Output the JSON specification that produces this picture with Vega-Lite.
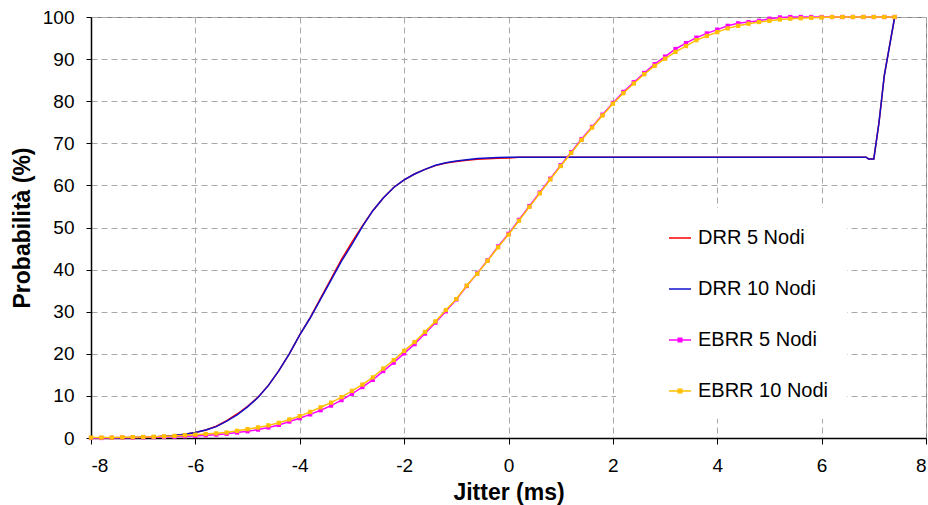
{
  "$schema": "https://vega.github.io/schema/vega-lite/v6.json",
  "width": 835,
  "height": 421,
  "autosize": {"type": "none"},
  "padding": {"left": 91, "top": 17, "right": 2, "bottom": 67},
  "background": "white",
  "config": {
    "font": "Liberation Sans",
    "view": {"stroke": "#808080", "strokeWidth": 1},
    "axis": {
      "labelFont": "Liberation Sans",
      "labelFontSize": 19,
      "labelColor": "black",
      "titleFont": "Liberation Sans",
      "titleFontSize": 23,
      "titleFontWeight": "bold",
      "titleColor": "black",
      "domainColor": "black",
      "domainWidth": 1.5,
      "tickColor": "black",
      "tickWidth": 1,
      "gridColor": "#a8a8a8",
      "gridDash": [6, 4],
      "gridWidth": 1
    }
  },
  "datasets": {
    "pts": [
      {"x": -8, "y": 0, "s": "DRR 5 Nodi"},
      {"x": -7.6, "y": 0.02, "s": "DRR 5 Nodi"},
      {"x": -7.2, "y": 0.08, "s": "DRR 5 Nodi"},
      {"x": -7.0, "y": 0.15, "s": "DRR 5 Nodi"},
      {"x": -6.8, "y": 0.25, "s": "DRR 5 Nodi"},
      {"x": -6.6, "y": 0.4, "s": "DRR 5 Nodi"},
      {"x": -6.4, "y": 0.6, "s": "DRR 5 Nodi"},
      {"x": -6.2, "y": 0.9, "s": "DRR 5 Nodi"},
      {"x": -6.0, "y": 1.3, "s": "DRR 5 Nodi"},
      {"x": -5.8, "y": 1.9, "s": "DRR 5 Nodi"},
      {"x": -5.6, "y": 2.8, "s": "DRR 5 Nodi"},
      {"x": -5.4, "y": 4.1, "s": "DRR 5 Nodi"},
      {"x": -5.2, "y": 5.7, "s": "DRR 5 Nodi"},
      {"x": -5.0, "y": 7.5, "s": "DRR 5 Nodi"},
      {"x": -4.8, "y": 9.7, "s": "DRR 5 Nodi"},
      {"x": -4.6, "y": 12.5, "s": "DRR 5 Nodi"},
      {"x": -4.4, "y": 16.0, "s": "DRR 5 Nodi"},
      {"x": -4.2, "y": 20.0, "s": "DRR 5 Nodi"},
      {"x": -4.0, "y": 24.5, "s": "DRR 5 Nodi"},
      {"x": -3.8, "y": 28.6, "s": "DRR 5 Nodi"},
      {"x": -3.6, "y": 33.2, "s": "DRR 5 Nodi"},
      {"x": -3.4, "y": 37.8, "s": "DRR 5 Nodi"},
      {"x": -3.2, "y": 42.4, "s": "DRR 5 Nodi"},
      {"x": -3.0, "y": 46.5, "s": "DRR 5 Nodi"},
      {"x": -2.8, "y": 50.4, "s": "DRR 5 Nodi"},
      {"x": -2.6, "y": 54.0, "s": "DRR 5 Nodi"},
      {"x": -2.4, "y": 57.0, "s": "DRR 5 Nodi"},
      {"x": -2.2, "y": 59.5, "s": "DRR 5 Nodi"},
      {"x": -2.0, "y": 61.3, "s": "DRR 5 Nodi"},
      {"x": -1.8, "y": 62.7, "s": "DRR 5 Nodi"},
      {"x": -1.6, "y": 63.8, "s": "DRR 5 Nodi"},
      {"x": -1.4, "y": 64.7, "s": "DRR 5 Nodi"},
      {"x": -1.2, "y": 65.3, "s": "DRR 5 Nodi"},
      {"x": -1.0, "y": 65.7, "s": "DRR 5 Nodi"},
      {"x": -0.8, "y": 66.0, "s": "DRR 5 Nodi"},
      {"x": -0.6, "y": 66.2, "s": "DRR 5 Nodi"},
      {"x": -0.4, "y": 66.35, "s": "DRR 5 Nodi"},
      {"x": -0.2, "y": 66.45, "s": "DRR 5 Nodi"},
      {"x": 0.0, "y": 66.5, "s": "DRR 5 Nodi"},
      {"x": 0.2, "y": 66.7, "s": "DRR 5 Nodi"},
      {"x": 2.0, "y": 66.7, "s": "DRR 5 Nodi"},
      {"x": 4.0, "y": 66.7, "s": "DRR 5 Nodi"},
      {"x": 6.0, "y": 66.7, "s": "DRR 5 Nodi"},
      {"x": 6.85, "y": 66.7, "s": "DRR 5 Nodi"},
      {"x": 6.9, "y": 66.3, "s": "DRR 5 Nodi"},
      {"x": 7.0, "y": 66.3, "s": "DRR 5 Nodi"},
      {"x": 7.1, "y": 75.0, "s": "DRR 5 Nodi"},
      {"x": 7.2, "y": 86.0, "s": "DRR 5 Nodi"},
      {"x": 7.3, "y": 93.0, "s": "DRR 5 Nodi"},
      {"x": 7.4, "y": 100.0, "s": "DRR 5 Nodi"},

      {"x": -8, "y": 0, "s": "DRR 10 Nodi"},
      {"x": -7.6, "y": 0.02, "s": "DRR 10 Nodi"},
      {"x": -7.2, "y": 0.08, "s": "DRR 10 Nodi"},
      {"x": -7.0, "y": 0.15, "s": "DRR 10 Nodi"},
      {"x": -6.8, "y": 0.25, "s": "DRR 10 Nodi"},
      {"x": -6.6, "y": 0.4, "s": "DRR 10 Nodi"},
      {"x": -6.4, "y": 0.6, "s": "DRR 10 Nodi"},
      {"x": -6.2, "y": 0.9, "s": "DRR 10 Nodi"},
      {"x": -6.0, "y": 1.3, "s": "DRR 10 Nodi"},
      {"x": -5.8, "y": 1.9, "s": "DRR 10 Nodi"},
      {"x": -5.6, "y": 2.7, "s": "DRR 10 Nodi"},
      {"x": -5.4, "y": 4.0, "s": "DRR 10 Nodi"},
      {"x": -5.2, "y": 5.5, "s": "DRR 10 Nodi"},
      {"x": -5.0, "y": 7.4, "s": "DRR 10 Nodi"},
      {"x": -4.8, "y": 9.6, "s": "DRR 10 Nodi"},
      {"x": -4.6, "y": 12.5, "s": "DRR 10 Nodi"},
      {"x": -4.4, "y": 16.0, "s": "DRR 10 Nodi"},
      {"x": -4.2, "y": 20.0, "s": "DRR 10 Nodi"},
      {"x": -4.0, "y": 24.5, "s": "DRR 10 Nodi"},
      {"x": -3.8, "y": 28.5, "s": "DRR 10 Nodi"},
      {"x": -3.6, "y": 33.0, "s": "DRR 10 Nodi"},
      {"x": -3.4, "y": 37.5, "s": "DRR 10 Nodi"},
      {"x": -3.2, "y": 42.0, "s": "DRR 10 Nodi"},
      {"x": -3.0, "y": 46.0, "s": "DRR 10 Nodi"},
      {"x": -2.8, "y": 50.2, "s": "DRR 10 Nodi"},
      {"x": -2.6, "y": 54.0, "s": "DRR 10 Nodi"},
      {"x": -2.4, "y": 57.0, "s": "DRR 10 Nodi"},
      {"x": -2.2, "y": 59.5, "s": "DRR 10 Nodi"},
      {"x": -2.0, "y": 61.3, "s": "DRR 10 Nodi"},
      {"x": -1.8, "y": 62.7, "s": "DRR 10 Nodi"},
      {"x": -1.6, "y": 63.8, "s": "DRR 10 Nodi"},
      {"x": -1.4, "y": 64.8, "s": "DRR 10 Nodi"},
      {"x": -1.2, "y": 65.4, "s": "DRR 10 Nodi"},
      {"x": -1.0, "y": 65.8, "s": "DRR 10 Nodi"},
      {"x": -0.8, "y": 66.1, "s": "DRR 10 Nodi"},
      {"x": -0.6, "y": 66.4, "s": "DRR 10 Nodi"},
      {"x": -0.4, "y": 66.5, "s": "DRR 10 Nodi"},
      {"x": -0.2, "y": 66.6, "s": "DRR 10 Nodi"},
      {"x": 0.0, "y": 66.7, "s": "DRR 10 Nodi"},
      {"x": 2.0, "y": 66.7, "s": "DRR 10 Nodi"},
      {"x": 4.0, "y": 66.7, "s": "DRR 10 Nodi"},
      {"x": 6.0, "y": 66.7, "s": "DRR 10 Nodi"},
      {"x": 6.85, "y": 66.7, "s": "DRR 10 Nodi"},
      {"x": 6.9, "y": 66.3, "s": "DRR 10 Nodi"},
      {"x": 7.0, "y": 66.3, "s": "DRR 10 Nodi"},
      {"x": 7.1, "y": 75.0, "s": "DRR 10 Nodi"},
      {"x": 7.2, "y": 86.0, "s": "DRR 10 Nodi"},
      {"x": 7.3, "y": 93.0, "s": "DRR 10 Nodi"},
      {"x": 7.4, "y": 100.0, "s": "DRR 10 Nodi"},

      {"x": -8.0, "y": 0, "s": "EBRR 5 Nodi"},
      {"x": -7.8, "y": 0, "s": "EBRR 5 Nodi"},
      {"x": -7.6, "y": 0.05, "s": "EBRR 5 Nodi"},
      {"x": -7.4, "y": 0.1, "s": "EBRR 5 Nodi"},
      {"x": -7.2, "y": 0.1, "s": "EBRR 5 Nodi"},
      {"x": -7.0, "y": 0.15, "s": "EBRR 5 Nodi"},
      {"x": -6.8, "y": 0.2, "s": "EBRR 5 Nodi"},
      {"x": -6.6, "y": 0.25, "s": "EBRR 5 Nodi"},
      {"x": -6.4, "y": 0.3, "s": "EBRR 5 Nodi"},
      {"x": -6.2, "y": 0.4, "s": "EBRR 5 Nodi"},
      {"x": -6.0, "y": 0.5, "s": "EBRR 5 Nodi"},
      {"x": -5.8, "y": 0.65, "s": "EBRR 5 Nodi"},
      {"x": -5.6, "y": 0.8, "s": "EBRR 5 Nodi"},
      {"x": -5.4, "y": 1.0, "s": "EBRR 5 Nodi"},
      {"x": -5.2, "y": 1.3, "s": "EBRR 5 Nodi"},
      {"x": -5.0, "y": 1.6, "s": "EBRR 5 Nodi"},
      {"x": -4.8, "y": 2.0, "s": "EBRR 5 Nodi"},
      {"x": -4.6, "y": 2.5, "s": "EBRR 5 Nodi"},
      {"x": -4.4, "y": 3.1, "s": "EBRR 5 Nodi"},
      {"x": -4.2, "y": 3.9, "s": "EBRR 5 Nodi"},
      {"x": -4.0, "y": 4.7, "s": "EBRR 5 Nodi"},
      {"x": -3.8, "y": 5.6, "s": "EBRR 5 Nodi"},
      {"x": -3.6, "y": 6.6, "s": "EBRR 5 Nodi"},
      {"x": -3.4, "y": 7.7, "s": "EBRR 5 Nodi"},
      {"x": -3.2, "y": 9.0, "s": "EBRR 5 Nodi"},
      {"x": -3.0, "y": 10.5, "s": "EBRR 5 Nodi"},
      {"x": -2.8, "y": 12.1, "s": "EBRR 5 Nodi"},
      {"x": -2.6, "y": 13.8, "s": "EBRR 5 Nodi"},
      {"x": -2.4, "y": 15.9, "s": "EBRR 5 Nodi"},
      {"x": -2.2, "y": 17.9, "s": "EBRR 5 Nodi"},
      {"x": -2.0, "y": 20.1, "s": "EBRR 5 Nodi"},
      {"x": -1.8, "y": 22.3, "s": "EBRR 5 Nodi"},
      {"x": -1.6, "y": 24.8, "s": "EBRR 5 Nodi"},
      {"x": -1.4, "y": 27.4, "s": "EBRR 5 Nodi"},
      {"x": -1.2, "y": 30.1, "s": "EBRR 5 Nodi"},
      {"x": -1.0, "y": 32.9, "s": "EBRR 5 Nodi"},
      {"x": -0.8, "y": 36.1, "s": "EBRR 5 Nodi"},
      {"x": -0.6, "y": 39.1, "s": "EBRR 5 Nodi"},
      {"x": -0.4, "y": 42.2, "s": "EBRR 5 Nodi"},
      {"x": -0.2, "y": 45.5, "s": "EBRR 5 Nodi"},
      {"x": 0.0, "y": 48.5, "s": "EBRR 5 Nodi"},
      {"x": 0.2, "y": 51.8, "s": "EBRR 5 Nodi"},
      {"x": 0.4, "y": 55.1, "s": "EBRR 5 Nodi"},
      {"x": 0.6, "y": 58.3, "s": "EBRR 5 Nodi"},
      {"x": 0.8, "y": 61.6, "s": "EBRR 5 Nodi"},
      {"x": 1.0, "y": 64.8, "s": "EBRR 5 Nodi"},
      {"x": 1.2, "y": 67.9, "s": "EBRR 5 Nodi"},
      {"x": 1.4, "y": 71.0, "s": "EBRR 5 Nodi"},
      {"x": 1.6, "y": 73.9, "s": "EBRR 5 Nodi"},
      {"x": 1.8, "y": 76.8, "s": "EBRR 5 Nodi"},
      {"x": 2.0, "y": 79.6, "s": "EBRR 5 Nodi"},
      {"x": 2.2, "y": 82.2, "s": "EBRR 5 Nodi"},
      {"x": 2.4, "y": 84.5, "s": "EBRR 5 Nodi"},
      {"x": 2.6, "y": 86.7, "s": "EBRR 5 Nodi"},
      {"x": 2.8, "y": 88.8, "s": "EBRR 5 Nodi"},
      {"x": 3.0, "y": 90.6, "s": "EBRR 5 Nodi"},
      {"x": 3.2, "y": 92.4, "s": "EBRR 5 Nodi"},
      {"x": 3.4, "y": 93.8, "s": "EBRR 5 Nodi"},
      {"x": 3.6, "y": 95.1, "s": "EBRR 5 Nodi"},
      {"x": 3.8, "y": 96.1, "s": "EBRR 5 Nodi"},
      {"x": 4.0, "y": 97.0, "s": "EBRR 5 Nodi"},
      {"x": 4.2, "y": 97.9, "s": "EBRR 5 Nodi"},
      {"x": 4.4, "y": 98.5, "s": "EBRR 5 Nodi"},
      {"x": 4.6, "y": 98.8, "s": "EBRR 5 Nodi"},
      {"x": 4.8, "y": 99.1, "s": "EBRR 5 Nodi"},
      {"x": 5.0, "y": 99.6, "s": "EBRR 5 Nodi"},
      {"x": 5.2, "y": 99.9, "s": "EBRR 5 Nodi"},
      {"x": 5.4, "y": 100, "s": "EBRR 5 Nodi"},
      {"x": 5.6, "y": 100, "s": "EBRR 5 Nodi"},
      {"x": 5.8, "y": 100, "s": "EBRR 5 Nodi"},
      {"x": 6.0, "y": 100, "s": "EBRR 5 Nodi"},
      {"x": 6.2, "y": 100, "s": "EBRR 5 Nodi"},
      {"x": 6.4, "y": 100, "s": "EBRR 5 Nodi"},
      {"x": 6.6, "y": 100, "s": "EBRR 5 Nodi"},
      {"x": 6.8, "y": 100, "s": "EBRR 5 Nodi"},
      {"x": 7.0, "y": 100, "s": "EBRR 5 Nodi"},
      {"x": 7.2, "y": 100, "s": "EBRR 5 Nodi"},
      {"x": 7.4, "y": 100, "s": "EBRR 5 Nodi"},

      {"x": -8.0, "y": 0.1, "s": "EBRR 10 Nodi"},
      {"x": -7.8, "y": 0.1, "s": "EBRR 10 Nodi"},
      {"x": -7.6, "y": 0.1, "s": "EBRR 10 Nodi"},
      {"x": -7.4, "y": 0.15, "s": "EBRR 10 Nodi"},
      {"x": -7.2, "y": 0.2, "s": "EBRR 10 Nodi"},
      {"x": -7.0, "y": 0.25, "s": "EBRR 10 Nodi"},
      {"x": -6.8, "y": 0.3, "s": "EBRR 10 Nodi"},
      {"x": -6.6, "y": 0.4, "s": "EBRR 10 Nodi"},
      {"x": -6.4, "y": 0.5, "s": "EBRR 10 Nodi"},
      {"x": -6.2, "y": 0.65, "s": "EBRR 10 Nodi"},
      {"x": -6.0, "y": 0.8, "s": "EBRR 10 Nodi"},
      {"x": -5.8, "y": 0.95, "s": "EBRR 10 Nodi"},
      {"x": -5.6, "y": 1.1, "s": "EBRR 10 Nodi"},
      {"x": -5.4, "y": 1.3, "s": "EBRR 10 Nodi"},
      {"x": -5.2, "y": 1.7, "s": "EBRR 10 Nodi"},
      {"x": -5.0, "y": 2.1, "s": "EBRR 10 Nodi"},
      {"x": -4.8, "y": 2.5, "s": "EBRR 10 Nodi"},
      {"x": -4.6, "y": 3.0, "s": "EBRR 10 Nodi"},
      {"x": -4.4, "y": 3.6, "s": "EBRR 10 Nodi"},
      {"x": -4.2, "y": 4.4, "s": "EBRR 10 Nodi"},
      {"x": -4.0, "y": 5.2, "s": "EBRR 10 Nodi"},
      {"x": -3.8, "y": 6.2, "s": "EBRR 10 Nodi"},
      {"x": -3.6, "y": 7.3, "s": "EBRR 10 Nodi"},
      {"x": -3.4, "y": 8.4, "s": "EBRR 10 Nodi"},
      {"x": -3.2, "y": 9.7, "s": "EBRR 10 Nodi"},
      {"x": -3.0, "y": 11.2, "s": "EBRR 10 Nodi"},
      {"x": -2.8, "y": 12.7, "s": "EBRR 10 Nodi"},
      {"x": -2.6, "y": 14.4, "s": "EBRR 10 Nodi"},
      {"x": -2.4, "y": 16.5, "s": "EBRR 10 Nodi"},
      {"x": -2.2, "y": 18.5, "s": "EBRR 10 Nodi"},
      {"x": -2.0, "y": 20.7, "s": "EBRR 10 Nodi"},
      {"x": -1.8, "y": 22.8, "s": "EBRR 10 Nodi"},
      {"x": -1.6, "y": 25.2, "s": "EBRR 10 Nodi"},
      {"x": -1.4, "y": 27.7, "s": "EBRR 10 Nodi"},
      {"x": -1.2, "y": 30.4, "s": "EBRR 10 Nodi"},
      {"x": -1.0, "y": 33.0, "s": "EBRR 10 Nodi"},
      {"x": -0.8, "y": 36.2, "s": "EBRR 10 Nodi"},
      {"x": -0.6, "y": 39.0, "s": "EBRR 10 Nodi"},
      {"x": -0.4, "y": 42.1, "s": "EBRR 10 Nodi"},
      {"x": -0.2, "y": 45.3, "s": "EBRR 10 Nodi"},
      {"x": 0.0, "y": 48.3, "s": "EBRR 10 Nodi"},
      {"x": 0.2, "y": 51.6, "s": "EBRR 10 Nodi"},
      {"x": 0.4, "y": 54.9, "s": "EBRR 10 Nodi"},
      {"x": 0.6, "y": 58.1, "s": "EBRR 10 Nodi"},
      {"x": 0.8, "y": 61.4, "s": "EBRR 10 Nodi"},
      {"x": 1.0, "y": 64.6, "s": "EBRR 10 Nodi"},
      {"x": 1.2, "y": 67.7, "s": "EBRR 10 Nodi"},
      {"x": 1.4, "y": 70.8, "s": "EBRR 10 Nodi"},
      {"x": 1.6, "y": 73.7, "s": "EBRR 10 Nodi"},
      {"x": 1.8, "y": 76.6, "s": "EBRR 10 Nodi"},
      {"x": 2.0, "y": 79.4, "s": "EBRR 10 Nodi"},
      {"x": 2.2, "y": 81.9, "s": "EBRR 10 Nodi"},
      {"x": 2.4, "y": 84.2, "s": "EBRR 10 Nodi"},
      {"x": 2.6, "y": 86.4, "s": "EBRR 10 Nodi"},
      {"x": 2.8, "y": 88.4, "s": "EBRR 10 Nodi"},
      {"x": 3.0, "y": 90.1, "s": "EBRR 10 Nodi"},
      {"x": 3.2, "y": 91.7, "s": "EBRR 10 Nodi"},
      {"x": 3.4, "y": 93.1, "s": "EBRR 10 Nodi"},
      {"x": 3.6, "y": 94.5, "s": "EBRR 10 Nodi"},
      {"x": 3.8, "y": 95.5, "s": "EBRR 10 Nodi"},
      {"x": 4.0, "y": 96.4, "s": "EBRR 10 Nodi"},
      {"x": 4.2, "y": 97.3, "s": "EBRR 10 Nodi"},
      {"x": 4.4, "y": 97.9, "s": "EBRR 10 Nodi"},
      {"x": 4.6, "y": 98.4, "s": "EBRR 10 Nodi"},
      {"x": 4.8, "y": 98.8, "s": "EBRR 10 Nodi"},
      {"x": 5.0, "y": 99.1, "s": "EBRR 10 Nodi"},
      {"x": 5.2, "y": 99.4, "s": "EBRR 10 Nodi"},
      {"x": 5.4, "y": 99.6, "s": "EBRR 10 Nodi"},
      {"x": 5.6, "y": 99.7, "s": "EBRR 10 Nodi"},
      {"x": 5.8, "y": 99.8, "s": "EBRR 10 Nodi"},
      {"x": 6.0, "y": 99.9, "s": "EBRR 10 Nodi"},
      {"x": 6.2, "y": 100, "s": "EBRR 10 Nodi"},
      {"x": 6.4, "y": 100, "s": "EBRR 10 Nodi"},
      {"x": 6.6, "y": 100, "s": "EBRR 10 Nodi"},
      {"x": 6.8, "y": 100, "s": "EBRR 10 Nodi"},
      {"x": 7.0, "y": 100, "s": "EBRR 10 Nodi"},
      {"x": 7.2, "y": 100, "s": "EBRR 10 Nodi"},
      {"x": 7.4, "y": 100, "s": "EBRR 10 Nodi"}
    ]
  },
  "data": {"name": "pts"},
  "encoding": {
    "x": {
      "field": "x",
      "type": "quantitative",
      "scale": {"domain": [-8, 8], "nice": false, "zero": false},
      "axis": {
        "title": "Jitter (ms)",
        "values": [-8, -6, -4, -2, 0, 2, 4, 6, 8],
        "labelExpr": "toString(datum.value)",
        "tickSize": 6,
        "labelPadding": 12,
        "titleX": 417.5,
        "titleY": 54,
        "titleBaseline": "middle",
        "titleAnchor": "middle"
      }
    },
    "y": {
      "field": "y",
      "type": "quantitative",
      "scale": {"domain": [0, 100], "nice": false},
      "axis": {
        "title": "Probabilità (%)",
        "values": [0, 10, 20, 30, 40, 50, 60, 70, 80, 90, 100],
        "tickSize": 5,
        "labelPadding": 12,
        "titleX": -69,
        "titleY": 210.5,
        "titleAngle": -90,
        "titleBaseline": "middle",
        "titleAnchor": "middle"
      }
    },
    "color": {
      "field": "s",
      "type": "nominal",
      "scale": {
        "domain": ["DRR 5 Nodi", "DRR 10 Nodi", "EBRR 5 Nodi", "EBRR 10 Nodi"],
        "range": ["#FF0000", "#1010CC", "#FF00FF", "#FFC000"]
      },
      "legend": {
        "title": null,
        "orient": "none",
        "legendX": 525,
        "legendY": 191,
        "padding": 18,
        "fillColor": "white",
        "strokeColor": null,
        "labelFont": "Liberation Sans",
        "labelFontSize": 20,
        "labelColor": "black",
        "symbolOffset": 34,
        "labelOffset": 6,
        "symbolSize": 484,
        "symbolStrokeWidth": 1.5,
        "rowPadding": 29,
        "encode": {
          "symbols": {
            "update": {
              "shape": {"signal": "indexof(['EBRR 5 Nodi','EBRR 10 Nodi'], datum.value) >= 0 ? 'M-1,0H1M-0.16,-0.16H0.16V0.16H-0.16Z' : 'M-1,0H1'"},
              "fill": {"scale": "color", "field": "value"},
              "stroke": {"scale": "color", "field": "value"},
              "strokeWidth": {"value": 1.5},
              "opacity": {"value": 1}
            }
          }
        }
      }
    }
  },
  "layer": [
    {
      "transform": [{"filter": "datum.s == 'DRR 5 Nodi'"}],
      "mark": {"type": "line", "strokeWidth": 1.5}
    },
    {
      "transform": [{"filter": "datum.s == 'DRR 10 Nodi'"}],
      "mark": {"type": "line", "strokeWidth": 1.5}
    },
    {
      "transform": [{"filter": "datum.s == 'EBRR 5 Nodi'"}],
      "mark": {"type": "line", "strokeWidth": 1.5, "point": {"shape": "square", "size": 18, "filled": true, "opacity": 1}}
    },
    {
      "transform": [{"filter": "datum.s == 'EBRR 10 Nodi'"}],
      "mark": {"type": "line", "strokeWidth": 1.5, "point": {"shape": "square", "size": 18, "filled": true, "opacity": 1}}
    }
  ]
}
